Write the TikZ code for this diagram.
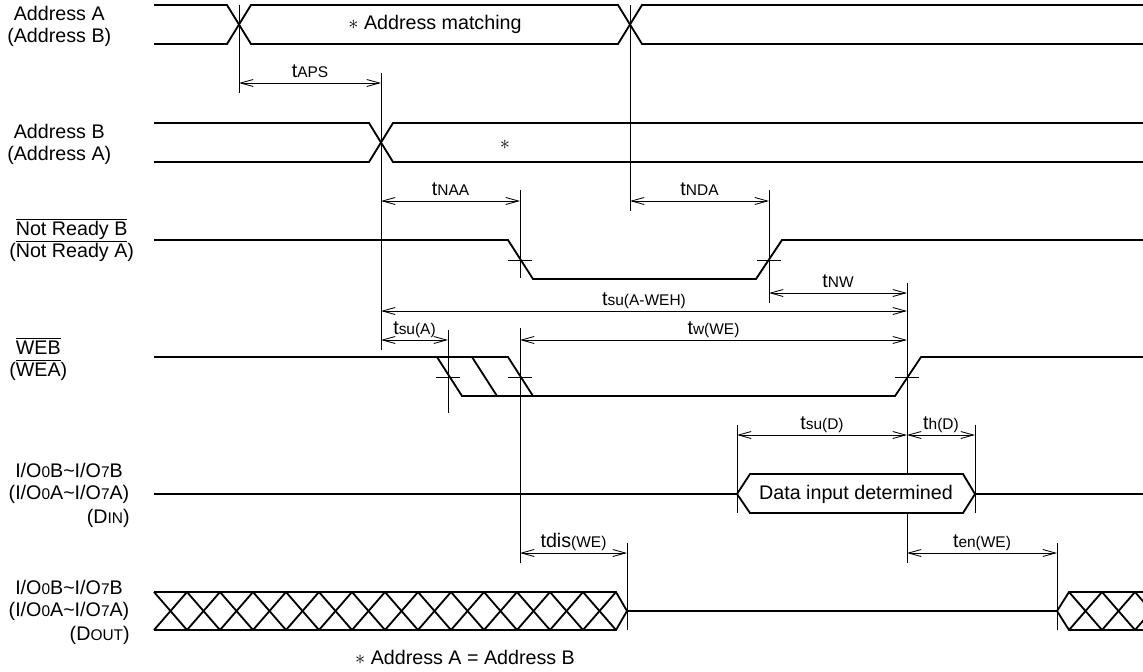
\documentclass[tikz,border=0pt]{standalone}
\usepackage{fontspec}
\setmainfont{Liberation Sans}
\usepackage{tikz}
\usetikzlibrary{arrows.meta}

\newcommand{\lbl}{\fontsize{14}{15.6}\selectfont}
\newcommand{\tsub}[1]{{\fontsize{11}{12}\selectfont #1}}
\newcommand{\ovl}[1]{$\overline{\mbox{#1}}$}

\begin{document}
\begin{tikzpicture}[x=0.025cm, y=-0.025cm,
	sig/.style = {line width=1.3pt},
	ext/.style = {line width=0.6pt},
	dim/.style = {line width=0.6pt, {Straight Barb[length=9pt,width=5pt]}-{Straight Barb[length=9pt,width=5pt]}},
	tlabel/.style = {midway, anchor=base, yshift=4pt, inner sep=0pt},
	every node/.style = {font=\lbl}]
	\useasboundingbox (0,0) rectangle (1143,671);
	\clip (0,0) rectangle (1143,671);
%
	% signal names
	\node[anchor=west, align=center, inner sep=0pt] (addrA) at (7,26) {Address A\\(Address B)};
	\node[anchor=west, align=center, inner sep=0pt] (addrB) at (7,144) {Address B\\(Address A)};
	\node[anchor=west, align=center, inner sep=0pt] (nrdy) at (9,240) {\ovl{Not Ready B}\\(\ovl{Not Ready A})};
	\node[anchor=west, align=center, inner sep=0pt] (web) at (9,359) {\ovl{WEB}\\(\ovl{WEA})};
	\node[align=center, inner sep=0pt] (iodin) at (69,483) {I/O\tsub{0}B\textasciitilde I/O\tsub{7}B\\(I/O\tsub{0}A\textasciitilde I/O\tsub{7}A)};
	\node[anchor=east, inner sep=0pt] (din) at (130,518) {(D\tsub{IN})};
	\node[align=center, inner sep=0pt] (iodout) at (69,600) {I/O\tsub{0}B\textasciitilde I/O\tsub{7}B\\(I/O\tsub{0}A\textasciitilde I/O\tsub{7}A)};
	\node[anchor=east, inner sep=0pt] (dout) at (130,635) {(D\tsub{OUT})};
%
	% extension lines
	\draw[ext] (239,5) -- (239,93);
	\draw[ext] (381,73) -- (381,350);
	\draw[ext] (630,5) -- (630,211);
	\draw[ext] (520,190) -- (520,278);
	\draw[ext] (520,328) -- (520,563);
	\draw[ext] (769,190) -- (769,303);
	\draw[ext] (907,283) -- (907,563);
	\draw[ext] (448,330) -- (448,413);
	\draw[ext] (737,425) -- (737,513);
	\draw[ext] (975,425) -- (975,513);
	\draw[ext] (627,543) -- (627,630);
	\draw[ext] (1057,543) -- (1057,630);
	\foreach \x/\y in {520/260, 769/260, 448/377, 520/377, 907/377}
		\draw[ext] (\x-12,\y) -- (\x+12,\y);
%
	% Address A / Address B
	\draw[sig] (154,5) -- (227,5) -- (251,44) -- (618,44) -- (642,5) -- (1143,5);
	\draw[sig] (154,44) -- (227,44) -- (251,5) -- (618,5) -- (642,44) -- (1143,44);
	\node (match) at (435,24) {$\ast$ Address matching};
	\draw[sig] (154,123) -- (369,123) -- (393,162) -- (1143,162);
	\draw[sig] (154,162) -- (369,162) -- (393,123) -- (1143,123);
	\node (same) at (505,145) {$\ast$};
%
	% Not Ready and WE
	\draw[sig] (154,240) -- (508,240) -- (533,279) -- (756,279) -- (782,240) -- (1143,240);
	\draw[sig] (154,357) -- (508,357) -- (533,396);
	\draw[sig] (437,357) -- (462,396) -- (895,396) -- (921,357) -- (1143,357);
	\draw[sig] (472,357) -- (497,396);
%
	% data in
	\draw[sig] (154,494) -- (737,494);
	\draw[sig, fill=white] (737,494) -- (750,474) -- (963,474) -- (975,494) -- (963,513) -- (750,513) -- cycle;
	\node (data) at (856,494) {Data input determined};
	\draw[sig] (975,494) -- (1143,494);
%
	% data out
	\draw[sig] (154,592) -- (616,592) -- (627,611) -- (616,630) -- (154,630);
	\foreach \k in {0,...,13} {
		\draw[sig] ({154+33*\k},592) -- ({187+33*\k},630);
		\draw[sig] ({154+33*\k},630) -- ({187+33*\k},592);
	}
	\draw[sig] (627,611) -- (1057,611);
	\draw[sig] (1143,592) -- (1069,592) -- (1057,611) -- (1069,630) -- (1143,630);
	\foreach \k in {0,1,2} {
		\draw[sig] ({1069+33*\k},592) -- ({1102+33*\k},630);
		\draw[sig] ({1069+33*\k},630) -- ({1102+33*\k},592);
	}
%
	% timing parameters
	\draw[dim] (239,83) -- node[tlabel] (aps) {t\tsub{APS}} (381,83);
	\draw[dim] (381,201) -- node[tlabel] (naa) {t\tsub{NAA}} (520,201);
	\draw[dim] (630,201) -- node[tlabel] (nda) {t\tsub{NDA}} (769,201);
	\draw[dim] (769,293) -- node[tlabel] (nw) {t\tsub{NW}} (907,293);
	\draw[dim] (381,311) -- node[tlabel] (suaweh) {t\tsub{su(A-WEH)}} (907,311);
	\draw[dim] (381,340) -- node[tlabel] (sua) {t\tsub{su(A)}} (448,340);
	\draw[dim] (520,340) -- node[tlabel] (wwe) {t\tsub{w(WE)}} (907,340);
	\draw[dim] (737,435) -- node[tlabel] (sud) {t\tsub{su(D)}} (907,435);
	\draw[dim] (907,435) -- node[tlabel] (hd) {t\tsub{h(D)}} (975,435);
	\draw[dim] (520,553) -- node[tlabel] (dis) {tdis\tsub{(WE)}} (627,553);
	\draw[dim] (907,553) -- node[tlabel] (en) {t\tsub{en(WE)}} (1057,553);
%
	\node (note) at (465,657) {$\ast$ Address A = Address B};
\end{tikzpicture}
\end{document}
